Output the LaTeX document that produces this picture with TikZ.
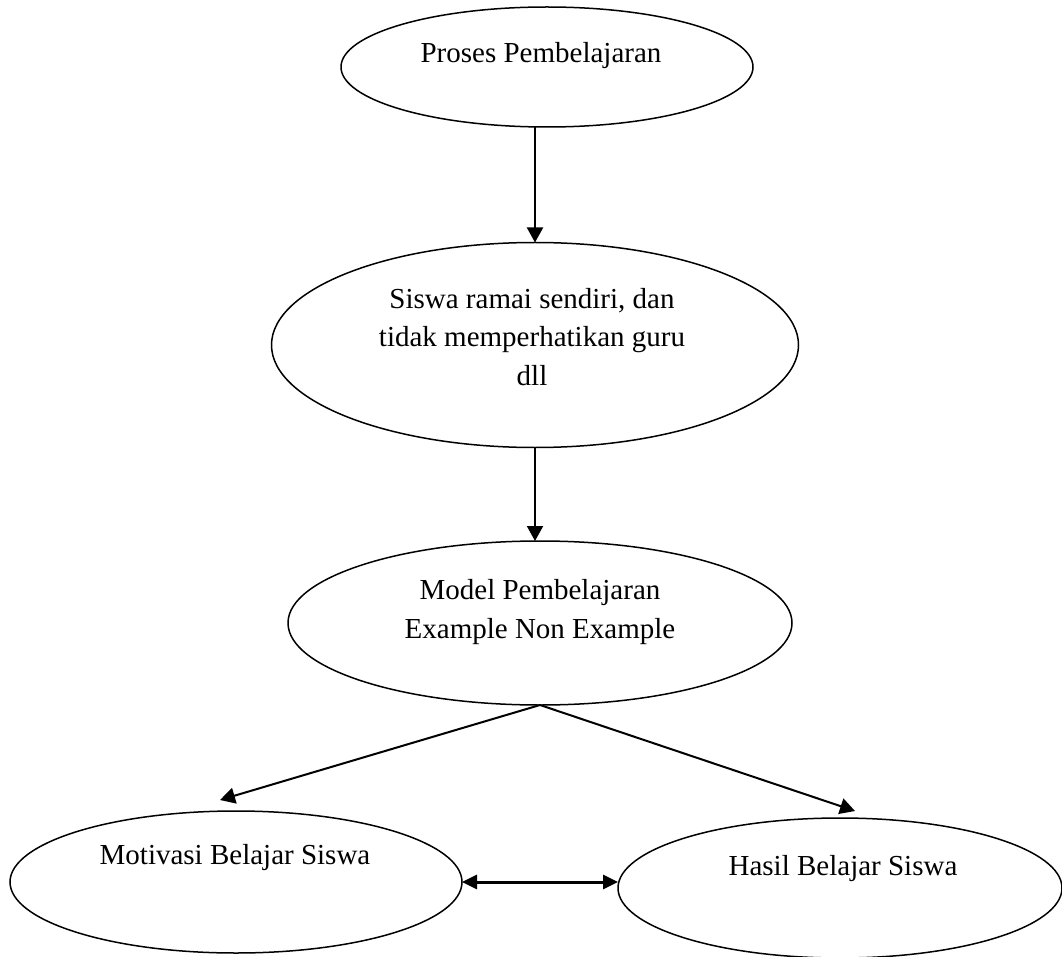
\documentclass[tikz,border=0pt]{standalone}
\usepackage{fontspec}
\setmainfont{Liberation Serif}
\usetikzlibrary{shapes.geometric,arrows.meta}
\begin{document}
\begin{tikzpicture}[x=1pt,y=-1pt,
  ell/.style={draw=black, line width=1.5pt, ellipse, inner sep=0pt, outer sep=0pt},
  txt/.style={align=center, inner sep=0pt, anchor=base, font=\fontsize{29}{38.5}\selectfont},
  conn/.style={line width=2pt, -{Triangle[length=15pt,width=16pt]}},
  dconn/.style={line width=3pt, {Triangle[length=15pt,width=14pt]}-{Triangle[length=15pt,width=14pt]}}]
\useasboundingbox (0,0) rectangle (1062,957);
\node[ell, minimum width=412pt, minimum height=120pt] (e1) at (547,67) {};
\node[ell, minimum width=527pt, minimum height=205pt] (e2) at (535,345) {};
\node[ell, minimum width=504pt, minimum height=164pt] (e3) at (540,623) {};
\node[ell, minimum width=452pt, minimum height=142pt] (e4) at (236,882) {};
\node[ell, minimum width=444pt, minimum height=140pt] (e5) at (840,888) {};
\node[txt] (t1) at (541,63) {Proses Pembelajaran};
\node[txt] (t2) at (532,385) {Siswa ramai sendiri, dan\\tidak memperhatikan guru\\dll};
\node[txt] (t3) at (540,638) {Model Pembelajaran\\Example Non Example};
\node[txt] (t4) at (235,864) {Motivasi Belajar Siswa};
\node[txt] (t5) at (843,875) {Hasil Belajar Siswa};
\coordinate (ml) at (220,800);
\coordinate (hr) at (855,811);
\draw[conn] (e1.south -| e2.north) -- (e2.north);
\draw[conn] (e2.south) -- (e2.south |- e3.north);
\draw[conn] (e3.south) -- (ml);
\draw[conn] (e3.south) -- (hr);
\draw[dconn] (e4.east) -- (e4.east -| e5.west);
\end{tikzpicture}
\end{document}
